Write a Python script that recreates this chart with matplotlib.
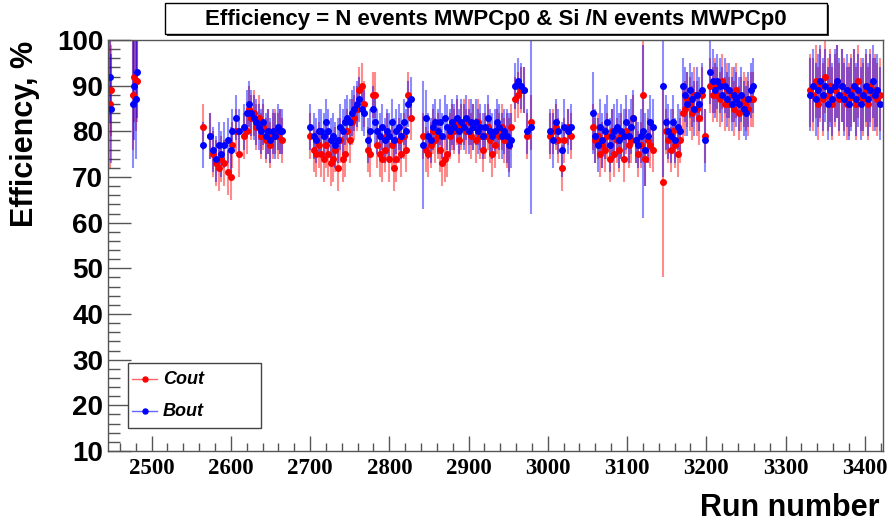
import matplotlib
matplotlib.use("Agg")
import matplotlib.pyplot as plt
from matplotlib.patches import Rectangle
from matplotlib.lines import Line2D
from matplotlib.ticker import MultipleLocator

# run numbers (same runs for both detectors)
runs = [2447, 2449, 2476, 2478, 2480, 2482,
        2565, 2574, 2578, 2581, 2585, 2588, 2592, 2596, 2600, 2602, 2606, 2610,
        2617, 2620, 2623, 2626, 2629, 2632, 2635, 2638, 2641, 2644, 2647, 2650,
        2653, 2656, 2659, 2662, 2665,
        2700, 2705, 2708, 2711, 2714, 2717, 2720, 2723, 2726, 2729, 2732, 2735,
        2738, 2741, 2744, 2747, 2750, 2753, 2756, 2759, 2762, 2765, 2768, 2773,
        2776, 2779, 2782, 2785, 2788, 2791, 2794, 2797, 2800, 2803, 2806, 2809,
        2812, 2815, 2818, 2821, 2824, 2827,
        2843, 2846, 2849, 2852, 2855, 2858, 2861, 2864, 2867, 2870, 2873, 2876,
        2879, 2882, 2885, 2888, 2891, 2894, 2897, 2900, 2903, 2906, 2909, 2912,
        2915, 2918, 2921, 2924, 2927, 2930, 2933, 2936, 2939, 2942, 2945, 2948,
        2951, 2954, 2958, 2962, 2966, 2970, 2974, 2979,
        3003, 3007, 3010, 3013, 3018, 3021, 3025, 3029,
        3057, 3060, 3063, 3066, 3069, 3072, 3075, 3078, 3081, 3084, 3087, 3090,
        3093, 3096, 3099, 3102, 3105, 3108, 3111, 3114, 3117, 3120, 3123, 3126,
        3129, 3133,
        3146, 3149, 3152, 3155, 3158, 3161, 3164, 3167,
        3170, 3173, 3176, 3179, 3182, 3185, 3188, 3191, 3194, 3198,
        3205, 3208, 3211, 3214, 3217, 3220, 3223, 3226, 3229, 3232, 3235, 3238,
        3241, 3244, 3247, 3250, 3253, 3256, 3259,
        3331, 3335, 3338, 3341, 3344, 3347, 3350, 3353, 3356, 3359, 3362, 3365,
        3368, 3371, 3374, 3377, 3380, 3383, 3386, 3389, 3392, 3395, 3398, 3401,
        3404, 3407, 3410, 3413, 3416, 3419]

cout = [86, 89, 88, 92, 91, 91,
        81, 79, 75, 73, 72, 74, 73, 71, 70, 77, 80, 75,
        79, 80, 85, 83, 84, 81, 83, 79, 81, 78, 80, 77,
        79, 80, 79, 80, 78,
        79, 76, 75, 77, 75, 74, 77, 75, 73, 74, 76, 72,
        78, 74, 75, 80, 78, 82, 83, 85, 89, 90, 86, 76,
        75, 88, 88, 77, 75, 74, 76, 79, 74, 77, 72, 74,
        78, 75, 79, 76, 88, 83,
        79, 76, 75, 77, 80, 78, 79, 76, 73, 74, 75, 79,
        81, 80, 82, 78, 81, 82, 80, 82, 79, 81, 78, 82,
        79, 76, 79, 81, 78, 75, 77, 80, 79, 81, 78, 78,
        77, 81, 87, 88, 89, 89, 79, 82,
        79, 80, 81, 78, 72, 78, 81, 79,
        81, 78, 79, 75, 77, 76, 79, 74, 80, 75, 78, 76,
        79, 74, 80, 77, 78, 83, 78, 75, 77, 88, 74, 78,
        77, 76,
        69, 80, 78, 76, 80, 77, 75, 78,
        84, 85, 87, 86, 84, 88, 85, 83, 88, 79,
        90, 88, 90, 88, 87, 91, 86, 89, 86, 88, 85, 89,
        84, 86, 87, 86, 85, 87, 87,
        89, 88, 91, 86, 90, 87, 92, 88, 90, 86, 89, 91,
        87, 90, 88, 86, 87, 89, 90, 86, 91, 88, 87, 89,
        86, 90, 88, 89, 87, 88]

cout_err = [14, 10, 12, 10, 11, 9,
            5, 5, 5, 5, 5, 5, 5, 5, 5, 5, 5, 5,
            5, 5, 5, 5, 5, 5, 5, 5, 5, 5, 5, 5,
            5, 5, 5, 5, 5,
            5, 5, 5, 5, 5, 5, 5, 5, 5, 5, 5, 5,
            5, 5, 5, 5, 5, 5, 5, 5, 5, 5, 5, 5,
            5, 5, 5, 5, 5, 5, 5, 5, 5, 5, 5, 5,
            5, 5, 5, 5, 5, 5,
            5, 5, 5, 5, 5, 5, 5, 5, 5, 5, 5, 5,
            5, 5, 5, 5, 5, 5, 5, 5, 5, 5, 5, 5,
            5, 5, 5, 5, 5, 5, 5, 5, 5, 5, 5, 6,
            6, 5, 5, 5, 5, 5, 5, 6,
            5, 5, 5, 5, 5, 5, 4, 5,
            5, 5, 5, 5, 5, 5, 5, 5, 5, 5, 5, 5,
            5, 5, 5, 5, 5, 5, 5, 5, 5, 14, 6, 5,
            5, 5,
            21, 5, 5, 5, 5, 5, 5, 5,
            6, 6, 6, 6, 6, 6, 6, 6, 6, 6,
            6, 6, 6, 6, 6, 6, 6, 6, 6, 6, 6, 6,
            6, 6, 6, 6, 6, 6, 6,
            8, 8, 8, 8, 8, 8, 8, 8, 8, 8, 8, 8,
            8, 8, 8, 8, 8, 8, 8, 8, 8, 8, 8, 8,
            8, 8, 8, 8, 8, 8]

bout = [92, 85, 86, 90, 87, 93,
        77, 79, 76, 74, 77, 75, 77, 78, 76, 80, 83, 80,
        81, 84, 86, 84, 83, 82, 81, 80, 82, 79, 80, 78,
        80, 79, 81, 80, 80,
        81, 79, 78, 80, 80, 79, 82, 80, 78, 79, 77, 78,
        81, 80, 82, 83, 82, 84, 85, 86, 87, 85, 84, 78,
        80, 85, 82, 80, 79, 81, 78, 80, 79, 82, 78, 80,
        81, 79, 82, 80, 86, 87,
        77, 83, 79, 78, 81, 82, 80, 82, 79, 83, 81, 80,
        82, 81, 83, 80, 82, 81, 83, 80, 82, 81, 82, 80,
        81, 79, 81, 83, 80, 79, 80, 82, 81, 79, 80, 79,
        77, 78, 90, 91, 90, 89, 80, 81,
        80, 78, 82, 80, 76, 81, 80, 81,
        84, 79, 77, 81, 78, 80, 82, 77, 79, 80, 81, 78,
        80, 79, 82, 79, 81, 83, 78, 77, 79, 80, 76, 79,
        82, 81,
        90, 82, 80, 79, 82, 78, 81, 80,
        90, 88, 86, 89, 87, 85, 88, 86, 89, 78,
        93, 91, 89, 91, 90, 88, 90, 87, 89, 86, 88, 87,
        86, 88, 85, 84, 87, 89, 90,
        88, 90, 87, 89, 91, 88, 90, 86, 89, 87, 90, 91,
        88, 90, 87, 89, 86, 88, 90, 87, 89, 86, 88, 90,
        87, 89, 91, 88, 89, 86]

bout_err = [10, 12, 14, 12, 13, 10,
            5, 5, 5, 5, 5, 5, 5, 5, 5, 5, 5, 5,
            5, 5, 5, 5, 5, 5, 5, 5, 5, 5, 5, 5,
            5, 5, 5, 5, 5,
            5, 5, 5, 5, 5, 5, 5, 5, 5, 5, 5, 5,
            5, 5, 5, 5, 5, 5, 5, 5, 5, 5, 5, 5,
            5, 5, 5, 5, 5, 5, 5, 5, 5, 5, 5, 5,
            5, 5, 5, 5, 5, 5,
            14, 6, 5, 5, 5, 5, 5, 5, 5, 5, 5, 5,
            5, 5, 5, 5, 5, 5, 5, 5, 5, 5, 5, 5,
            5, 5, 5, 5, 5, 5, 5, 5, 5, 5, 5, 6,
            7, 6, 5, 5, 5, 5, 5, 19,
            5, 6, 5, 5, 6, 6, 5, 5,
            9, 6, 6, 6, 6, 6, 6, 6, 6, 6, 6, 6,
            6, 6, 6, 6, 6, 6, 5, 5, 6, 19, 8, 6,
            6, 6,
            20, 6, 6, 6, 6, 5, 5, 5,
            6, 6, 7, 6, 6, 6, 6, 6, 6, 7,
            7, 7, 6, 6, 6, 6, 6, 6, 6, 6, 6, 6,
            6, 6, 6, 6, 6, 6, 6,
            8, 8, 8, 8, 8, 8, 8, 8, 8, 8, 8, 8,
            8, 8, 8, 8, 8, 8, 8, 8, 8, 8, 8, 8,
            8, 8, 8, 8, 8, 8]

sans = "Liberation Sans"
serif = "Liberation Serif"

fig = plt.figure(figsize=(8.9, 5.25), dpi=100)
ax = fig.add_axes([108/890, 1-451/525, 775/890, 411/525])

# red first, blue drawn on top
ax.errorbar(runs, cout, yerr=cout_err, xerr=1, fmt="o", ms=4, color="red",
            ecolor=(1, 0, 0, 0.45), elinewidth=1.5, capsize=0)
ax.errorbar(runs, bout, yerr=bout_err, xerr=1, fmt="o", ms=4, color="blue",
            ecolor=(0, 0, 1, 0.45), elinewidth=1.5, capsize=0)

ax.set_xlim(2445, 3423)
ax.set_ylim(10, 100)
ax.xaxis.set_major_locator(MultipleLocator(100))
ax.xaxis.set_minor_locator(MultipleLocator(20))
ax.yaxis.set_major_locator(MultipleLocator(10))
ax.yaxis.set_minor_locator(MultipleLocator(2))
ax.tick_params(axis="y", which="major", direction="in", length=16.5, width=1, pad=3.5)
ax.tick_params(axis="y", which="minor", direction="in", length=8.5, width=1)
ax.tick_params(axis="x", which="major", direction="in", length=11, width=1, pad=5)
ax.tick_params(axis="x", which="minor", direction="in", length=5.5, width=1)
ax.tick_params(which="both", color="#555555", top=False, right=False)
for lab in ax.get_yticklabels():
    lab.set_fontfamily(sans)
    lab.set_fontweight("bold")
    lab.set_fontsize(20)
for lab in ax.get_xticklabels():
    lab.set_fontfamily(serif)
    lab.set_fontweight("bold")
    lab.set_fontsize(16.5)
for sp in ax.spines.values():
    sp.set_color("#555555")
    sp.set_linewidth(1)

# axis titles, ROOT style (aligned to the far end)
fig.text(25/890, 1-41/525, "Efficiency, %", rotation=90, ha="center", va="top",
         fontsize=22, fontweight="bold", family=sans)
fig.text(880/890, 1-516/525, "Run number", ha="right", va="baseline",
         fontsize=22, fontweight="bold", family=sans)

# title box with shadow
fig.patches.append(Rectangle((167/890, 1-36/525), 662/890, 31/525, transform=fig.transFigure,
                             facecolor="#333333", edgecolor="none"))
fig.patches.append(Rectangle((165/890, 1-34/525), 662/890, 31/525, transform=fig.transFigure,
                             facecolor="white", edgecolor="black", lw=1))
fig.text(496/890, 1-19/525, "Efficiency = N events MWPCp0 & Si /N events MWPCp0",
         ha="center", va="center", fontsize=16, fontweight="bold", family=sans)

# legend box
fig.patches.append(Rectangle((128/890, 1-428/525), 133/890, 65/525, transform=fig.transFigure,
                             facecolor="white", edgecolor="#444444", lw=1))
for yy, col, name in [(379, "red", "Cout"), (411, "blue", "Bout")]:
    fig.lines.append(Line2D([132/890, 157/890], [1-yy/525, 1-yy/525], transform=fig.transFigure,
                            color=col, alpha=0.6, lw=1))
    fig.lines.append(Line2D([145/890], [1-yy/525], transform=fig.transFigure,
                            color=col, marker="o", ms=3.6))
    fig.text(163/890, 1-yy/525, name, ha="left", va="center", fontsize=13,
             fontweight="bold", fontstyle="italic", family=sans)

fig.savefig("out.png", dpi=100)
